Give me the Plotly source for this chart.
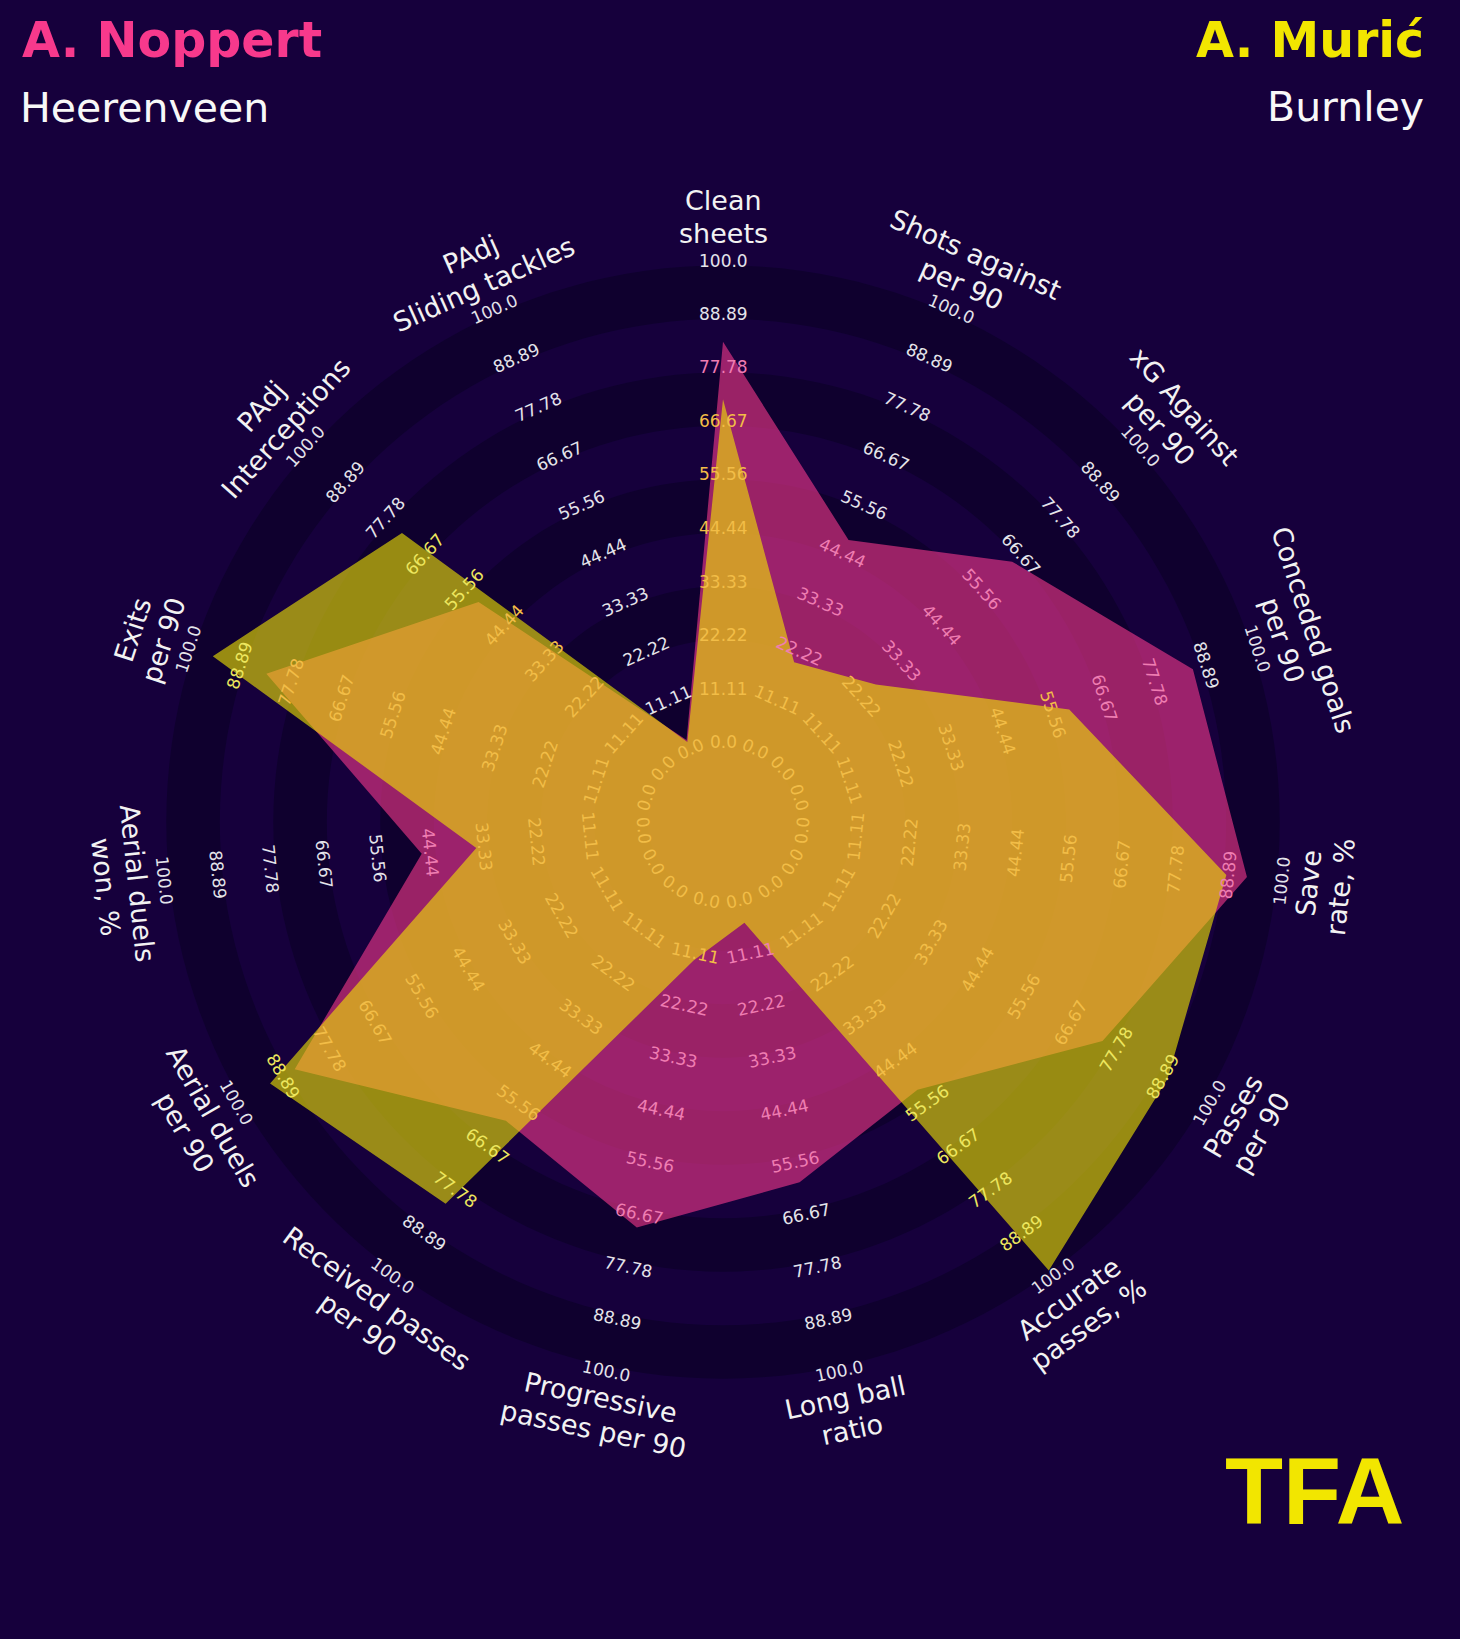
import math
import plotly.graph_objects as go

# ---------------- data ----------------
params = ["Clean\nsheets", "Shots against\nper 90", "xG Against\nper 90",
          "Conceded goals\nper 90", "Save\nrate, %", "Passes\nper 90",
          "Accurate\npasses, %", "Long ball\nratio", "Progressive\npasses per 90",
          "Received passes\nper 90", "Aerial duels\nper 90", "Aerial duels\nwon, %",
          "Exits\nper 90", "PAdj\nInterceptions", "PAdj\nSliding tackles"]

noppert = [83.1, 47.5, 64.2, 86.0, 92.8, 74.4, 52.1, 59.9, 69.5, 60.1, 86.1, 46.3, 83.1, 51.7, 2.0]
muric = [71.2, 19.7, 26.1, 59.0, 88.5, 90.0, 98.5, 4.8, 12.8, 81.4, 92.0, 34.9, 94.8, 73.1, 1.6]

ring_values = [0.0, 11.11, 22.22, 33.33, 44.44, 55.56, 66.67, 77.78, 88.89, 100.0]
ring_labels = ["0.0", "11.11", "22.22", "33.33", "44.44", "55.56", "66.67", "77.78", "88.89", "100.0"]

player_a, team_a = "A. Noppert", "Heerenveen"
player_b, team_b = "A. Murić", "Burnley"

# ---------------- style / layout ----------------
W, H = 1460, 1639
CX, CY = 723.0, 822.0        # radar centre (px)
R0 = 80.0                    # px radius of value 0
PX = 4.815                   # px per value unit
BG = "#16003c"
DARK = "#0f002e"
PINK = (247, 57, 140)
YEL = (243, 231, 0)
ALPHA = 0.6
LABEL_R = 605.0
LINE_GAP = 32.4

n = len(params)
step = 360.0 / n
thetas = [i * step for i in range(n)]          # clockwise from top


def to_px(v, i):
    a = math.radians(90 - thetas[i])
    r = R0 + PX * v
    return CX + r * math.cos(a), CY - r * math.sin(a)


def textangle(i):
    a = thetas[i]
    return ((a + 90) % 180) - 90


def px_to_paper(x, y):
    return x / W, 1 - y / H


def inside(pt, poly):
    x, y = pt
    c = False
    m = len(poly)
    for k in range(m):
        x1, y1 = poly[k]
        x2, y2 = poly[(k + 1) % m]
        if (y1 > y) != (y2 > y):
            xi = x1 + (y - y1) * (x2 - x1) / (y2 - y1)
            if x < xi:
                c = not c
    return c


poly_a = [to_px(v, i) for i, v in enumerate(noppert)]
poly_b = [to_px(v, i) for i, v in enumerate(muric)]

fig = go.Figure()

# rings
circle_t = list(range(0, 361, 2))
bounds = [v - 1.0 for v in ring_values[1:]][::-1]   # outer -> inner
for k, rb in enumerate(bounds):
    col = DARK if k % 2 == 0 else BG
    fig.add_trace(go.Scatterpolar(r=[rb] * len(circle_t), theta=circle_t, mode="lines",
                                  fill="toself", fillcolor=col, line=dict(width=0, color=col),
                                  hoverinfo="skip", showlegend=False))
fig.add_trace(go.Scatterpolar(r=[-1.0] * len(circle_t), theta=circle_t, mode="lines",
                              fill="toself", fillcolor=BG, line=dict(width=0, color=BG),
                              hoverinfo="skip", showlegend=False))

# player polygons
for vals, rgb, name in [(noppert, PINK, player_a), (muric, YEL, player_b)]:
    fc = "rgba(%d,%d,%d,%.2f)" % (rgb[0], rgb[1], rgb[2], ALPHA)
    fig.add_trace(go.Scatterpolar(r=vals + [vals[0]], theta=thetas + [thetas[0]], mode="lines",
                                  fill="toself", fillcolor=fc,
                                  line=dict(width=0, color="rgba(0,0,0,0)"),
                                  name=name, showlegend=False, hoverinfo="skip"))

RMIN = -R0 / PX
RMAX = 100.0
Rpx = PX * (RMAX - RMIN)
fig.update_layout(
    width=W, height=H, margin=dict(l=0, r=0, t=0, b=0),
    paper_bgcolor=BG, plot_bgcolor=BG,
    polar=dict(
        domain=dict(x=[(CX - Rpx) / W, (CX + Rpx) / W], y=[1 - (CY + Rpx) / H, 1 - (CY - Rpx) / H]),
        bgcolor="rgba(0,0,0,0)",
        radialaxis=dict(range=[RMIN, RMAX], visible=False),
        angularaxis=dict(rotation=90, direction="clockwise", visible=False,
                         showgrid=False, showline=False, showticklabels=False, ticks=""),
        hole=0,
    ),
)

# label colours (label seen through the translucent polygons)
W_LAB = (228, 228, 234)


def mix(base, top, a):
    return tuple(base[j] * (1 - a) + top[j] * a for j in range(3))


col_out = W_LAB
col_a = mix(W_LAB, PINK, ALPHA)
col_b = mix(W_LAB, YEL, ALPHA)
col_ab = mix(mix(W_LAB, PINK, ALPHA), YEL, ALPHA)


def rgb_str(c):
    return "rgb(%d,%d,%d)" % tuple(int(round(x)) for x in c)


annotations = []
for i in range(n):
    ang = textangle(i)
    for v, lab in zip(ring_values, ring_labels):
        x, y = to_px(v, i)
        ia, ib = inside((x, y), poly_a), inside((x, y), poly_b)
        c = col_ab if (ia and ib) else col_a if ia else col_b if ib else col_out
        px_, py_ = px_to_paper(x, y)
        annotations.append(dict(x=px_, y=py_, xref="paper", yref="paper", text=lab,
                                showarrow=False, xanchor="center", yanchor="middle",
                                textangle=ang, font=dict(family="DejaVu Sans", size=17, color=rgb_str(c))))
    # parameter label
    a = math.radians(90 - thetas[i])
    bx, by = CX + LABEL_R * math.cos(a), CY - LABEL_R * math.sin(a)
    lines = params[i].split("\n")
    nl = len(lines)
    ta = math.radians(ang)
    dvx, dvy = -math.sin(ta), math.cos(ta)
    for j, ln in enumerate(lines):
        off = (j - (nl - 1) / 2) * LINE_GAP
        lx, ly = bx + dvx * off, by + dvy * off
        px_, py_ = px_to_paper(lx, ly)
        annotations.append(dict(x=px_, y=py_, xref="paper", yref="paper", text=ln,
                                showarrow=False, xanchor="center", yanchor="middle",
                                textangle=ang, font=dict(family="DejaVu Sans", size=27, color="#f2f2f2")))

# header
annotations += [
    dict(x=20 / W, y=1 - 40.5 / H, xref="paper", yref="paper", text="<b>%s</b>" % player_a,
         showarrow=False, xanchor="left", yanchor="middle",
         font=dict(family="DejaVu Sans", size=49, color=rgb_str(PINK))),
    dict(x=18 / W, y=1 - 107.5 / H, xref="paper", yref="paper", text=team_a,
         showarrow=False, xanchor="left", yanchor="middle",
         font=dict(family="DejaVu Sans", size=41, color="#f8f8f8")),
    dict(x=1426 / W, y=1 - 40.5 / H, xref="paper", yref="paper", text="<b>%s</b>" % player_b,
         showarrow=False, xanchor="right", yanchor="middle",
         font=dict(family="DejaVu Sans", size=49, color="#f2e600")),
    dict(x=1426 / W, y=1 - 107 / H, xref="paper", yref="paper", text=team_b,
         showarrow=False, xanchor="right", yanchor="middle",
         font=dict(family="DejaVu Sans", size=41, color="#f8f8f8")),
    dict(x=1223 / W, y=1 - 1491 / H, xref="paper", yref="paper", text="<b>TFA</b>",
         showarrow=False, xanchor="left", yanchor="middle",
         font=dict(family="Liberation Sans", size=95, color="#f2e600")),
]
fig.update_layout(annotations=annotations)

fig.write_html("out.html",
               config={"displayModeBar": False},
               post_script="document.body.style.margin='0px';"
                           "document.body.style.overflow='hidden';"
                           "document.body.style.background='%s';" % BG)
